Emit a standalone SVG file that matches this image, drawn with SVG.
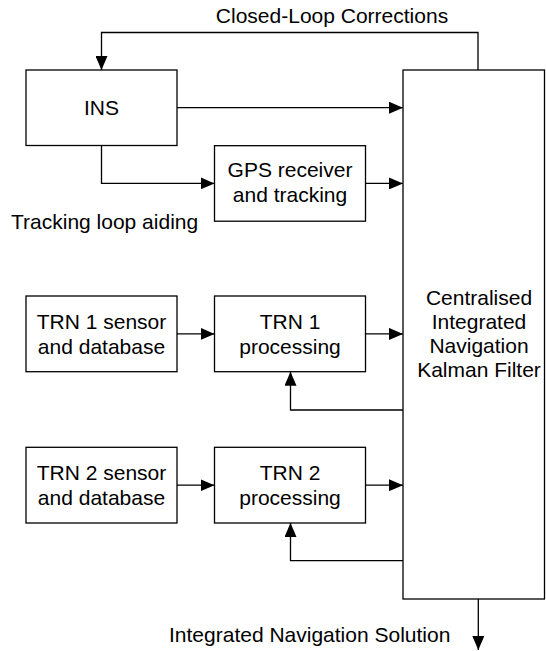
<svg xmlns="http://www.w3.org/2000/svg" width="546" height="651" viewBox="0 0 546 651">
<style>
.box{fill:#fff;stroke:#000;stroke-width:1.3}
.ln{fill:none;stroke:#000;stroke-width:1.3}
text{font-family:"Liberation Sans",Arial,sans-serif;font-size:21px;fill:#000}
.c{text-anchor:middle}
</style>
<defs>
<marker id="ah" viewBox="0 0 14 12" refX="14" refY="6" markerWidth="14" markerHeight="12" markerUnits="userSpaceOnUse" orient="auto">
<path d="M0,0 L14,6 L0,12 Z" fill="#000"/>
</marker>
</defs>
<rect width="546" height="651" fill="#fff"/>
<g id="kf">
<rect class="box" x="403" y="70" width="141.5" height="529"/>
<text class="c" x="479" y="305">Centralised</text>
<text class="c" x="479" y="329">Integrated</text>
<text class="c" x="479" y="353">Navigation</text>
<text class="c" x="479" y="377">Kalman Filter</text>
</g>
<g id="ins">
<rect class="box" x="26" y="70" width="151" height="75.5"/>
<text class="c" x="101.5" y="114.5">INS</text>
</g>
<g id="gps">
<rect class="box" x="214.5" y="145.7" width="151" height="75.5"/>
<text class="c" x="290" y="177">GPS receiver</text>
<text class="c" x="290" y="202">and tracking</text>
</g>
<g id="trn1s">
<rect class="box" x="26" y="296" width="151" height="75.7"/>
<text class="c" x="101.5" y="328.5">TRN 1 sensor</text>
<text class="c" x="101.5" y="353.5">and database</text>
</g>
<g id="trn1p">
<rect class="box" x="214.5" y="296" width="151" height="75.7"/>
<text class="c" x="290" y="328.5">TRN 1</text>
<text class="c" x="290" y="353.5">processing</text>
</g>
<g id="trn2s">
<rect class="box" x="26" y="447.3" width="151" height="75.7"/>
<text class="c" x="101.5" y="479.8">TRN 2 sensor</text>
<text class="c" x="101.5" y="504.8">and database</text>
</g>
<g id="trn2p">
<rect class="box" x="214.5" y="447.3" width="151" height="75.7"/>
<text class="c" x="290" y="479.8">TRN 2</text>
<text class="c" x="290" y="504.8">processing</text>
</g>
<g id="connectors">
<path class="ln" d="M478,70 V32.5 H101.5 V70" marker-end="url(#ah)"/>
<path class="ln" d="M177,107.7 H403" marker-end="url(#ah)"/>
<path class="ln" d="M101.5,145.5 V183.4 H214.5" marker-end="url(#ah)"/>
<path class="ln" d="M365.5,183.4 H403" marker-end="url(#ah)"/>
<path class="ln" d="M177,333.9 H214.5" marker-end="url(#ah)"/>
<path class="ln" d="M365.5,333.9 H403" marker-end="url(#ah)"/>
<path class="ln" d="M403,410 H290.5 V371.7" marker-end="url(#ah)"/>
<path class="ln" d="M177,485.2 H214.5" marker-end="url(#ah)"/>
<path class="ln" d="M365.5,485.2 H403" marker-end="url(#ah)"/>
<path class="ln" d="M403,560.7 H290.5 V523" marker-end="url(#ah)"/>
<path class="ln" d="M478.3,599 V650" marker-end="url(#ah)"/>
</g>
<g id="labels">
<text class="c" x="332" y="23">Closed-Loop Corrections</text>
<text x="11" y="228.5">Tracking loop aiding</text>
<text x="169" y="641.5">Integrated Navigation Solution</text>
</g>
</svg>
